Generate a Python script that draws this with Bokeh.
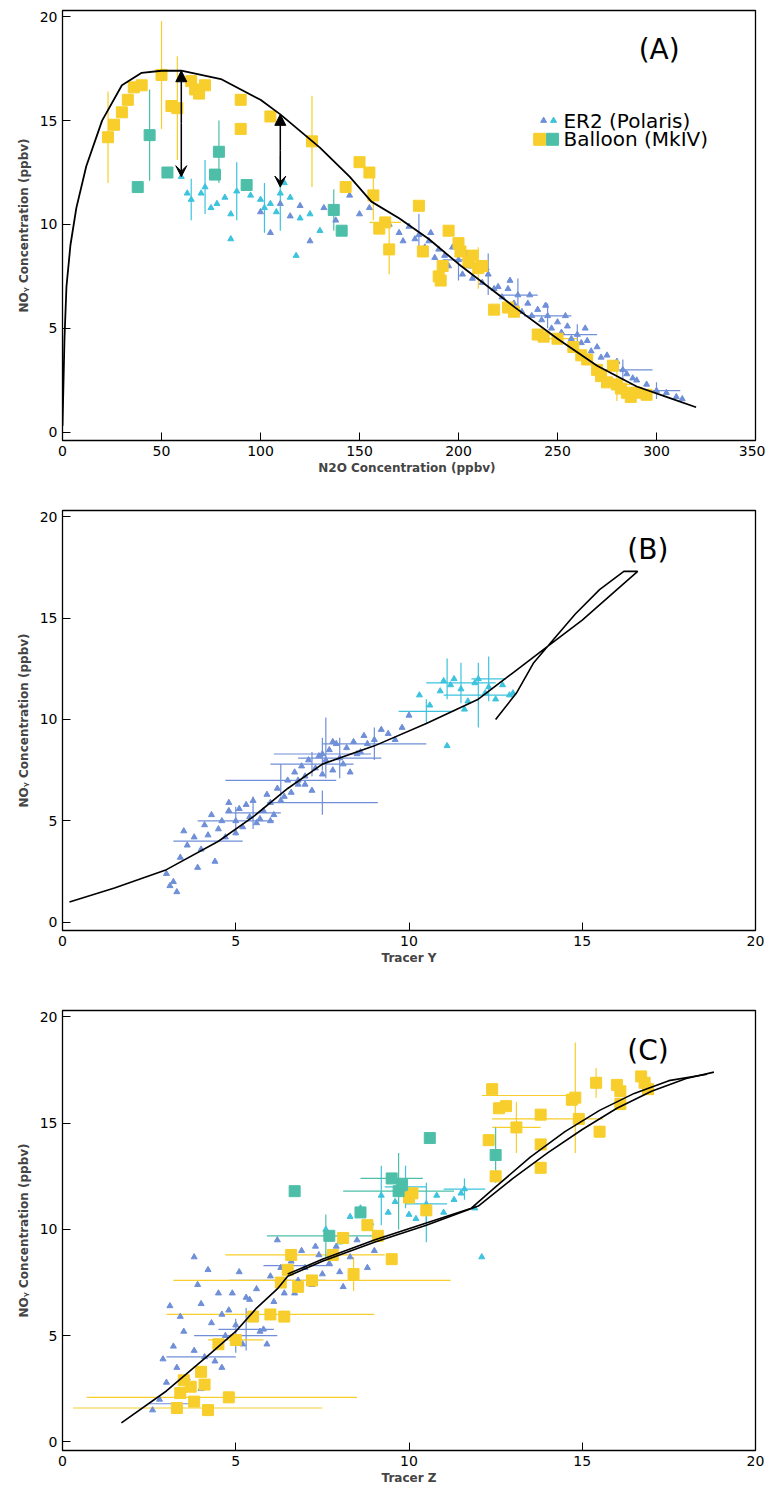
from bokeh.plotting import figure
from bokeh.layouts import column
from bokeh.models import Range1d, Arrow, VeeHead, NormalHead
from bokeh.embed import file_html
from bokeh.resources import INLINE

BLUE = "#6F8FD8"; CYAN = "#3DC3DD"; YEL = "#F7CE2B"; TEAL = "#4DBFA8"

# ---------------- Panel A data ----------------
a_curve_x = [0, 1, 2, 4, 7, 12, 20, 30, 40, 50, 60, 80, 100, 110, 130, 145, 156, 170, 185, 200, 215, 230, 250, 270, 290, 305, 320]
a_curve_y = [0.3, 4.5, 7.0, 9.0, 10.8, 12.8, 15.0, 16.7, 17.3, 17.4, 17.4, 17.0, 16.0, 15.3, 13.7, 12.3, 11.1, 10.3, 9.3, 8.1, 7.0, 5.9, 4.5, 3.2, 2.2, 1.7, 1.2]
a_blue_x = [100, 105, 110, 115, 120, 125, 132, 138, 145, 150, 155, 160, 165, 170, 172, 175, 178, 180, 183, 185, 188, 190, 193, 195, 197, 200, 202, 205, 207, 210, 212, 215, 218, 220, 222, 225, 228, 230, 232, 235, 237, 240, 242, 245, 247, 250, 252, 255, 257, 260, 262, 265, 267, 270, 272, 275, 278, 280, 283, 285, 288, 290, 295, 300, 305, 310, 313, 198, 204, 226, 236, 244, 254, 264, 186, 214]
a_blue_y = [10.6, 9.6, 11.0, 10.4, 10.9, 9.2, 10.8, 10.2, 11.4, 10.5, 10.8, 9.9, 10.0, 9.6, 9.2, 9.9, 9.3, 9.5, 8.9, 9.2, 8.4, 8.8, 8.5, 8.0, 8.9, 8.3, 7.6, 8.0, 7.4, 7.8, 7.2, 7.6, 6.9, 7.0, 6.5, 6.9, 6.2, 6.6, 5.8, 6.2, 5.6, 5.9, 5.4, 5.6, 5.0, 5.3, 4.8, 5.1, 4.5, 4.7, 4.3, 4.4, 3.9, 4.1, 3.6, 3.7, 3.3, 3.4, 3.0, 2.8, 2.6, 2.5, 2.3, 2.0, 1.9, 1.7, 1.6, 9.0, 8.6, 7.3, 6.6, 6.1, 5.6, 5.0, 9.6, 7.9]
a_cyan_x = [60, 63, 65, 70, 72, 75, 78, 82, 85, 88, 95, 100, 102, 105, 108, 110, 112, 115, 120, 125, 130, 118, 85]
a_cyan_y = [12.3, 11.5, 11.2, 11.5, 11.8, 10.8, 11.0, 11.3, 10.5, 11.6, 11.4, 11.2, 10.8, 11.0, 10.6, 11.5, 12.0, 11.3, 10.3, 10.5, 9.7, 8.5, 9.3]
a_yel_x = [23, 26, 30, 33, 36, 40, 50, 55, 58, 65, 67, 69, 72, 90, 90, 105, 126, 143, 150, 155, 157, 160, 163, 165, 180, 182, 190, 191, 192, 195, 200, 201, 205, 207, 210, 212, 218, 225, 228, 240, 243, 250, 258, 262, 265, 270, 272, 275, 278, 280, 282, 285, 287, 290, 295]
a_yel_y = [14.2, 14.8, 15.4, 16.0, 16.6, 16.7, 17.2, 15.7, 15.6, 16.9, 16.5, 16.3, 16.7, 16.0, 14.6, 15.2, 14.0, 11.8, 13.0, 12.5, 11.4, 9.8, 10.1, 8.8, 10.9, 8.7, 7.5, 7.3, 8.0, 9.7, 9.1, 8.7, 8.2, 8.5, 7.9, 8.0, 5.9, 6.0, 5.8, 4.7, 4.6, 4.5, 4.1, 3.7, 3.5, 3.0, 2.7, 2.4, 3.2, 2.3, 2.1, 1.9, 1.7, 1.9, 1.8]
a_teal_x = [38, 44, 53, 77, 79, 93, 137, 141]
a_teal_y = [11.8, 14.3, 12.5, 12.4, 13.5, 11.9, 10.7, 9.7]
# error bars (x, y, xerr, yerr)
a_yel_err = [(23, 14.2, 0, 2.2), (50, 17.2, 0, 2.6), (58, 15.6, 0, 2.5), (126, 14.0, 0, 2.2), (157, 11.4, 0, 1.2), (165, 8.8, 0, 1.2), (210, 7.9, 5, 1.0), (250, 4.5, 10, 0), (280, 2.3, 8, 0.8), (290, 1.9, 10, 0), (163, 10.1, 8, 0)]
a_teal_err = [(44, 14.3, 0, 2.2), (79, 13.5, 0, 1.5), (137, 10.7, 0, 1.0)]
a_cyan_err = [(72, 11.8, 0, 1.3), (88, 11.6, 0, 1.4), (110, 11.5, 0, 1.8), (102, 10.8, 0, 1.2), (65, 11.2, 0, 1.0)]
a_blue_err = [(180, 9.5, 0, 1.0), (200, 8.3, 8, 1.0), (230, 6.6, 10, 0.8), (245, 5.6, 12, 0.6), (260, 4.7, 10, 0.5), (283, 3.0, 15, 0.5), (300, 2.0, 12, 0.4), (215, 7.6, 0, 1.0)]
a_arrows = [(60, 17.4, 12.3), (110, 15.3, 11.8)]

# ---------------- Panel B data ----------------
b_curve_x = [0.2, 1.5, 3.0, 4.5, 5.5, 6.5, 7.5, 9.0, 10.5, 12.0, 13.0, 14.0, 15.0, 16.0, 16.6, 16.2, 15.5, 14.8, 14.2, 13.6, 13.1, 12.5]
b_curve_y = [1.0, 1.7, 2.6, 4.0, 5.2, 6.6, 7.8, 8.7, 9.8, 11.0, 12.3, 13.6, 14.9, 16.4, 17.3, 17.3, 16.4, 15.2, 14.0, 12.8, 11.3, 10.0]
b_blue_x = [3.0, 3.1, 3.2, 3.3, 3.5, 3.6, 3.8, 4.0, 4.1, 4.2, 4.3, 4.5, 4.6, 4.7, 4.8, 5.0, 5.1, 5.2, 5.3, 5.4, 5.5, 5.6, 5.8, 5.9, 6.0, 6.1, 6.2, 6.3, 6.5, 6.6, 6.7, 6.8, 6.9, 7.0, 7.1, 7.2, 7.3, 7.4, 7.5, 7.6, 7.7, 7.8, 7.9, 8.0, 8.1, 8.2, 8.4, 8.5, 8.7, 8.8, 9.0, 9.2, 9.4, 9.6, 9.8, 10.0, 4.4, 5.0, 5.7, 6.4, 7.0, 7.5, 8.3, 3.4, 3.9, 4.8, 6.0, 6.8, 7.8, 8.6]
b_blue_y = [2.4, 1.8, 2.0, 1.5, 4.5, 3.8, 4.2, 3.6, 4.8, 4.3, 5.3, 4.6, 5.0, 4.2, 5.5, 5.0, 5.6, 4.7, 5.8, 5.2, 6.0, 4.9, 5.5, 6.3, 5.9, 5.3, 6.6, 6.0, 7.0, 6.4, 7.4, 6.8, 7.7, 7.2, 8.0, 6.5, 7.6, 8.2, 7.3, 8.0, 8.5, 7.5, 8.8, 8.1, 7.8, 8.6, 8.9, 8.3, 9.2, 8.8, 9.0, 9.5, 9.3, 9.0, 9.6, 10.2, 3.0, 4.4, 5.1, 6.2, 6.8, 8.3, 7.4, 3.2, 2.7, 5.9, 5.0, 7.0, 8.9, 8.4]
b_cyan_x = [10.3, 10.6, 10.9, 11.0, 11.2, 11.3, 11.5, 11.7, 11.9, 12.0, 12.2, 12.3, 12.5, 12.7, 12.9, 13.0, 11.1, 11.6]
b_cyan_y = [11.2, 10.7, 11.4, 11.9, 11.7, 12.0, 11.5, 10.9, 11.8, 12.0, 11.3, 11.6, 11.0, 11.7, 11.2, 11.3, 8.7, 10.5]
b_blue_err = [(4.2, 4.0, 1.0, 0), (5.0, 5.0, 1.1, 0.7), (5.5, 5.4, 0.8, 0.8), (6.3, 7.0, 1.6, 0.8), (7.2, 7.8, 1.2, 0.6), (7.5, 8.3, 1.4, 0.8), (8.0, 8.1, 1.2, 1.0), (7.5, 5.9, 1.6, 0.6), (9.0, 8.8, 1.5, 0.8), (7.6, 8.6, 0, 1.5)]
b_cyan_err = [(10.5, 10.4, 0.8, 0.6), (11.5, 11.8, 1.0, 1.0), (12.0, 11.2, 1.0, 1.6), (11.1, 12.0, 0, 1.0), (12.3, 12.0, 0.5, 1.1)]

# ---------------- Panel C data ----------------
c_curve1_x = [1.7, 3.0, 4.3, 5.0, 5.6, 6.2, 6.5, 7.5, 9.0, 10.5, 12.0, 13.0, 14.0, 15.0, 16.0, 17.0, 18.0, 18.8]
c_curve1_y = [0.9, 2.4, 4.2, 5.2, 6.3, 7.2, 7.8, 8.5, 9.4, 10.2, 11.1, 12.4, 13.6, 14.7, 15.7, 16.5, 17.1, 17.4]
c_curve2_x = [6.5, 7.5, 9.0, 10.5, 11.8, 12.5, 13.5, 14.5, 15.5, 16.5, 17.5, 18.6]
c_curve2_y = [7.9, 8.6, 9.5, 10.3, 11.0, 12.0, 13.4, 14.6, 15.6, 16.4, 17.0, 17.3]
c_blue_x = [2.6, 2.8, 3.0, 3.2, 3.3, 3.5, 3.6, 3.8, 4.0, 4.1, 4.3, 4.4, 4.6, 4.7, 4.9, 5.0, 5.2, 5.3, 5.5, 5.6, 5.8, 6.0, 6.1, 6.3, 6.4, 6.6, 6.8, 6.9, 7.0, 7.2, 7.4, 7.5, 7.7, 7.9, 8.0, 8.3, 8.5, 8.8, 9.0, 3.1, 3.4, 3.9, 4.2, 4.5, 4.8, 5.1, 5.4, 5.9, 6.2, 6.7, 7.3, 8.1, 3.8, 4.6, 5.7, 2.9, 4.0]
c_blue_y = [1.5, 2.0, 2.8, 4.5, 3.5, 5.2, 3.0, 4.3, 6.5, 4.0, 5.6, 3.8, 6.0, 5.0, 7.0, 5.5, 4.6, 6.8, 5.8, 7.2, 5.3, 7.8, 6.6, 8.2, 7.0, 8.5, 7.6, 9.0, 8.2, 7.4, 8.8, 7.9, 8.4, 9.2, 8.0, 8.7, 9.5, 8.2, 9.0, 6.4, 5.9, 7.4, 8.1, 7.0, 6.2, 8.0, 6.7, 4.6, 9.5, 7.0, 9.2, 7.3, 8.7, 3.5, 5.2, 3.9, 2.5]
c_cyan_x = [7.6, 8.0, 8.3, 8.6, 8.9, 9.2, 9.4, 9.6, 9.9, 10.2, 10.5, 10.8, 11.0, 11.3, 11.6, 11.9, 12.1, 10.0, 11.5]
c_cyan_y = [10.0, 9.4, 10.6, 11.0, 10.3, 11.6, 10.8, 11.3, 12.0, 10.5, 11.2, 11.6, 10.8, 11.4, 11.9, 11.0, 8.7, 10.7, 11.7]
c_yel_x = [3.3, 3.4, 3.5, 3.7, 3.8, 4.0, 4.1, 4.2, 4.5, 4.8, 5.0, 5.5, 6.0, 6.3, 6.4, 6.5, 6.6, 6.8, 7.2, 7.8, 8.1, 8.4, 8.8, 9.1, 9.5, 10.0, 10.1, 10.5, 12.3, 12.4, 12.5, 12.6, 12.8, 13.1, 13.8, 13.8, 13.8, 14.7, 14.8, 14.9, 15.4, 15.5, 16.0, 16.1, 16.7, 16.8, 16.9, 16.1]
c_yel_y = [1.6, 2.3, 2.9, 2.6, 1.9, 3.3, 2.7, 1.5, 4.6, 2.1, 4.8, 5.9, 6.0, 7.5, 5.9, 8.1, 8.8, 7.3, 7.6, 8.8, 9.6, 7.9, 10.2, 9.7, 8.6, 11.5, 11.7, 10.9, 14.2, 16.6, 12.5, 15.7, 15.8, 14.8, 15.4, 14.0, 12.9, 16.1, 16.2, 15.2, 16.9, 14.6, 16.8, 15.9, 17.2, 16.9, 16.6, 16.5]
c_teal_x = [6.7, 7.7, 8.6, 9.5, 9.7, 10.6, 12.5, 9.8]
c_teal_y = [11.8, 9.7, 10.8, 12.4, 11.8, 14.3, 13.5, 12.1]
c_yel_err = [(3.9, 1.6, 3.6, 0), (4.6, 2.1, 3.9, 0), (5.0, 4.8, 0.8, 0), (6.0, 6.0, 3.0, 0), (7.2, 7.6, 4.0, 0), (7.0, 8.8, 2.3, 0), (8.4, 7.9, 0, 0.8), (14.0, 15.2, 1.6, 0), (13.4, 16.3, 1.3, 0), (14.8, 16.2, 0, 2.6), (13.1, 14.8, 0.7, 1.2), (15.4, 16.9, 0, 0.7)]
c_teal_err = [(7.6, 9.7, 1.7, 1.0), (9.7, 11.8, 1.6, 1.8), (9.5, 12.4, 0.9, 0), (12.5, 13.5, 0, 1.3)]
c_cyan_err = [(9.9, 12.0, 0.6, 1.0), (10.5, 11.2, 0.6, 1.0), (11.6, 11.9, 0.6, 0.5), (9.2, 11.6, 0, 1.4), (10.5, 10.1, 0, 0.7)]
c_blue_err = [(5.0, 5.0, 1.2, 0.8), (4.0, 4.0, 1.0, 0), (6.2, 7.6, 1.4, 0), (3.2, 1.8, 0.7, 0), (5.3, 5.3, 0.8, 1.0), (6.8, 8.3, 1.0, 0)]

FONT = "DejaVu Sans"


def errbars(p, errs, color):
    xs0, xs1, ys0, ys1 = [], [], [], []
    for x, y, dx, dy in errs:
        if dx:
            xs0.append(x - dx); xs1.append(x + dx); ys0.append(y); ys1.append(y)
        if dy:
            xs0.append(x); xs1.append(x); ys0.append(y - dy); ys1.append(y + dy)
    p.segment(xs0, ys0, xs1, ys1, line_color=color, line_width=1.2)


def make_fig(h, xr, xlabel, top_pad):
    p = figure(width=765, height=h, output_backend="svg", toolbar_location=None,
               x_range=Range1d(*xr), y_range=Range1d(-0.4, 20.3),
               min_border_left=62, min_border_right=10, min_border_top=top_pad, min_border_bottom=40)
    p.grid.visible = False
    p.outline_line_color = "black"; p.outline_line_width = 1.3
    for ax in (p.xaxis[0], p.yaxis[0]):
        ax.axis_line_color = "black"
        ax.major_tick_in = 8; ax.major_tick_out = 0
        ax.minor_tick_in = 4; ax.minor_tick_out = 0
        ax.major_label_text_font = FONT
        ax.major_label_text_font_size = "14px"
        ax.major_label_text_color = "black"
        ax.axis_label_text_font = FONT
        ax.axis_label_text_font_size = "12px"
        ax.axis_label_text_font_style = "bold"
    p.xaxis.axis_label = xlabel
    p.yaxis.axis_label = "NOᵧ Concentration (ppbv)"
    p.xaxis.axis_label_standoff = 2
    p.yaxis.axis_label_standoff = 6
    p.yaxis.ticker = [0, 5, 10, 15, 20]
    return p


# Panel A
pa = make_fig(480, (0, 350), "N2O Concentration  (ppbv)", 10)
pa.xaxis.ticker = [0, 50, 100, 150, 200, 250, 300, 350]
errbars(pa, a_blue_err, BLUE); errbars(pa, a_cyan_err, CYAN)
errbars(pa, a_yel_err, YEL); errbars(pa, a_teal_err, TEAL)
pa.scatter(a_blue_x, a_blue_y, marker="triangle", size=6, color=BLUE)
pa.scatter(a_cyan_x, a_cyan_y, marker="triangle", size=6, color=CYAN)
pa.scatter(a_yel_x, a_yel_y, marker="square", size=11, color=YEL)
pa.scatter(a_teal_x, a_teal_y, marker="square", size=11, color=TEAL)
pa.line(a_curve_x, a_curve_y, line_color="black", line_width=1.8)
for x, y0, y1 in a_arrows:
    pa.add_layout(Arrow(x_start=x, y_start=(y0 + y1) / 2, x_end=x, y_end=y0, line_color="black", line_width=1.5,
                        end=NormalHead(size=11, fill_color="black", line_color="black")))
    pa.add_layout(Arrow(x_start=x, y_start=(y0 + y1) / 2, x_end=x, y_end=y1, line_color="black", line_width=1.5,
                        end=VeeHead(size=11, fill_color="black", line_color="black")))
pa.scatter([243, 248], [15.0, 15.0], marker="triangle", size=6, color=[BLUE, CYAN])
pa.scatter([241, 247.5], [14.1, 14.1], marker="square", size=12, color=[YEL, TEAL])
pa.text([253, 253], [15.0, 14.1], text=["ER2 (Polaris)", "Balloon (MkIV)"], text_font_size="20px",
        text_baseline="middle", text_font=dict(value=FONT))
pa.text([291], [18.4], text=["(A)"], text_font_size="28px", text_baseline="middle", text_font=dict(value=FONT))

# Panel B
pb = make_fig(490, (0, 20), "Tracer Y", 30)
pb.xaxis.ticker = [0, 5, 10, 15, 20]
errbars(pb, b_blue_err, BLUE); errbars(pb, b_cyan_err, CYAN)
pb.scatter(b_blue_x, b_blue_y, marker="triangle", size=6, color=BLUE)
pb.scatter(b_cyan_x, b_cyan_y, marker="triangle", size=6, color=CYAN)
pb.line(b_curve_x, b_curve_y, line_color="black", line_width=1.6)
pb.text([16.3], [18.4], text=["(B)"], text_font_size="28px", text_baseline="middle", text_font=dict(value=FONT))

# Panel C
pc = make_fig(520, (0, 20), "Tracer Z", 40)
pc.xaxis.ticker = [0, 5, 10, 15, 20]
errbars(pc, c_blue_err, BLUE); errbars(pc, c_cyan_err, CYAN)
errbars(pc, c_yel_err, YEL); errbars(pc, c_teal_err, TEAL)
pc.scatter(c_blue_x, c_blue_y, marker="triangle", size=6, color=BLUE)
pc.scatter(c_cyan_x, c_cyan_y, marker="triangle", size=6, color=CYAN)
pc.scatter(c_yel_x, c_yel_y, marker="square", size=11, color=YEL)
pc.scatter(c_teal_x, c_teal_y, marker="square", size=11, color=TEAL)
pc.line(c_curve1_x, c_curve1_y, line_color="black", line_width=1.6)
pc.line(c_curve2_x, c_curve2_y, line_color="black", line_width=1.6)
pc.text([16.3], [18.4], text=["(C)"], text_font_size="28px", text_baseline="middle", text_font=dict(value=FONT))

layout = column(pa, pb, pc, spacing=0)
open("out.html", "w").write(file_html(layout, INLINE))
